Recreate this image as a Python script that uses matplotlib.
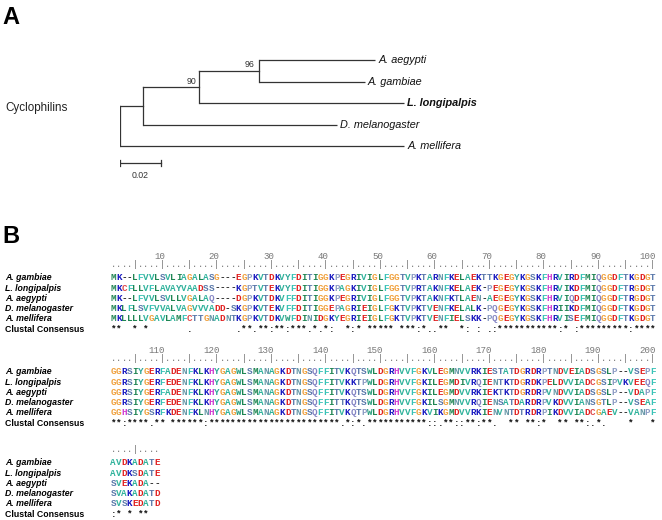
import matplotlib
matplotlib.use('Agg')
import matplotlib.pyplot as plt

W, H = 662, 520

# ---------------- panel A : tree ----------------
taxa = ['A. aegypti', 'A. gambiae', 'L. longipalpis', 'D. melanogaster', 'A. mellifera']
bootstrap = ['96', '90']
# branch lengths (substitutions per site)
br_root_n1 = 0.0115
br_n1_n2 = 0.0274
br_n2_n3 = 0.0295
br_n3_aeg = 0.0571
br_n3_gam = 0.0521
br_n2_lon = 0.1008
br_n1_dme = 0.0953
br_root_mel = 0.1397
scale_len = 0.02

# ---------------- panel B : alignment ----------------
names = ['A. gambiae', 'L. longipalpis', 'A. aegypti', 'D. melanogaster', 'A. mellifera']
gambiae = ('MK--LFVVLSVLIAGALASG---EGPKVTDKVYFDITIGG'
           'KPEGRIVIGLFGGTVPKTARNFKELAEKTTKGEGYKGSKF'
           'HRVIRDFMIQGGDFTKGDGT'
           'GGRSIYGERFADENFKLKHYGAGWLSMANAGKDTNGSQFF'
           'ITVKQTSWLDGRHVVFGKVLEGMNVVRKIESTATDGRDRP'
           'TNDVEIADSGSLP--VSEPF'
           'AVDKADATE')
longipalpis = ('MKCFLLVFLAVAYVAADSS----KGPTVTEKVYFDITIGG'
               'KPAGKIVIGLFGGTVPRTAKNFKELAEK-PEGEGYKGSKF'
               'HRVIKDFMIQGGDFTRGDGT'
               'GGRSIYGERFEDENFKLKHYGAGWLSMANAGKDTNGSQFF'
               'ITVKKTPWLDGRHVVFGKILEGMDIVRQIENTKTDGRDKP'
               'ELDVVIADCGSIPVKVEEQF'
               'AVDKSDATE')
aegypti = ('MK--LFVVLSVLLVGALAQ----DGPKVTDKVFFDITIGG'
           'KPEGRIVIGLFGGTVPKTAKNFKTLAEN-AEGEGYKGSKF'
           'HRVIQDFMIQGGDFTRGDGT'
           'GGRSIYGERFADENFKLKHYGAGWLSMANAGKDTNGSQFF'
           'ITVKQTSWLDGRHVVFGKILEGMDVVRKIEKTKTDGRDRP'
           'VNDVVIADSGSLP--VDAPF'
           'SVEKADA--')
melanogaster = ('MKLFLSVFVVALVAGVVVADD-SKGPKVTEKVFFDITIGG'
                'EPAGRIEIGLFGKTVPKTVENFKELALK-PQGEGYKGSKF'
                'HRIIKDFMIQGGDFTKGDGT'
                'GGRSIYGERFEDENFKLKHYGAGWLSMANAGKDTNGSQFF'
                'ITTKQTSWLDGRHVVFGKILSGMNVVRQIENSATDARDRP'
                'VKDVVIANSGTLP--VSEAF'
                'SVAKADATD')
mellifera = ('MKLLLLVGAVLAMFCTTGNADNTKGPKVTDKVWFDINIDG'
             'KYEGRIEIGLFGKTVPKTVENFIELSKK-PQGEGYKGSKF'
             'HRVISEFMIQGGDFTKGDGT'
             'GGHSIYGSRFKDENFKLNHYGAGWLSMANAGKDTNGSQFF'
             'ITVKQTPWLDGRHVVFGKVIKGMDVVRKIENVNTDTRDRP'
             'IKDVVIADCGAEV--VANPF'
             'SVSKEDATD')
consensus = ('**  * *       .     '
             '   .**.**:**:***.*.*'
             ':  *:* ***** ***:*..'
             '**  *: : .:*********'
             '**:* :*********:****'
             '**:****.** ******:**'
             '********************'
             '**.*:*.***********::'
             '.**::**:**.  ** **:*'
             '  ** **:.*.    *   *'
             ':* * **  ')
seqs = [gambiae, longipalpis, aegypti, melanogaster, mellifera]
block_len = 100

aa_colors = {
    'A': '#30b39c', 'V': '#30b39c', 'F': '#38c2b6', 'Y': '#2ea898', 'W': '#2a9f80',
    'L': '#1f8552', 'I': '#1f8552', 'M': '#1f8552',
    'C': '#e04848',
    'G': '#f0a03c',
    'P': '#8c9cc4',
    'S': '#5a78aa', 'T': '#5a78aa',
    'N': '#6898a8', 'Q': '#8484c4',
    'D': '#e02020', 'E': '#e02020',
    'K': '#1818c0', 'R': '#1818c0',
    'H': '#d03cd0',
    '-': '#222222',
}

fig = plt.figure(figsize=(W / 100, H / 100), dpi=100)

# overlay in pixel units for panel letters and side text
ax0 = fig.add_axes([0, 0, 1, 1])
ax0.set_xlim(0, W)
ax0.set_ylim(H, 0)
ax0.axis('off')
ax0.text(2, 24, 'A', fontsize=17, fontweight='bold', family='Liberation Sans', va='baseline', ha='left')
ax0.text(2, 243, 'B', fontsize=17, fontweight='bold', family='Liberation Sans', va='baseline', ha='left')
ax0.text(5, 108, 'Cyclophilins', fontsize=8.4, family='Liberation Sans', va='center', ha='left', color='#222222')

# ---- tree
px_per_unit = 2033.0
ax_t = fig.add_axes([120 / W, 1 - 185 / H, 325 / W, 136 / H])
ax_t.set_xlim(0, 325 / px_per_unit)
ax_t.set_ylim((185 - 60) / 21.5, (49 - 60) / 21.5)
ax_t.axis('off')

x_n1 = br_root_n1
x_n2 = x_n1 + br_n1_n2
x_n3 = x_n2 + br_n2_n3
tip_x = [x_n3 + br_n3_aeg, x_n3 + br_n3_gam, x_n2 + br_n2_lon, x_n1 + br_n1_dme, br_root_mel]
tip_y = [0, 1, 2, 3, 4]
tip_parent = [x_n3, x_n3, x_n2, x_n1, 0]
y_n3 = (tip_y[0] + tip_y[1]) / 2
y_n2 = (y_n3 + tip_y[2]) / 2
y_n1 = (y_n2 + tip_y[3]) / 2

lc = '#333333'
lw = 0.9
for px, tx, ty in zip(tip_parent, tip_x, tip_y):
    ax_t.plot([px, tx], [ty, ty], color=lc, lw=lw, solid_capstyle='butt')
ax_t.plot([x_n2, x_n3], [y_n3, y_n3], color=lc, lw=lw)
ax_t.plot([x_n1, x_n2], [y_n2, y_n2], color=lc, lw=lw)
ax_t.plot([0, x_n1], [y_n1, y_n1], color=lc, lw=lw)
ax_t.plot([x_n3, x_n3], [tip_y[0], tip_y[1]], color=lc, lw=lw)
ax_t.plot([x_n2, x_n2], [y_n3, tip_y[2]], color=lc, lw=lw)
ax_t.plot([x_n1, x_n1], [y_n2, tip_y[3]], color=lc, lw=lw)
ax_t.plot([0, 0], [y_n1, tip_y[4]], color=lc, lw=lw)

for name, tx, ty in zip(taxa, tip_x, tip_y):
    w = 'bold' if name == 'L. longipalpis' else 'normal'
    ax_t.text(tx + 0.0015, ty, name, fontsize=7.8, style='italic', fontweight=w,
              family='Liberation Sans', va='center', ha='left', color='#111111', clip_on=False)

ax_t.text(x_n3 - 0.002, y_n3 - 0.27, bootstrap[0], fontsize=6.3, family='Liberation Sans',
          ha='right', va='center', color='#333333')
ax_t.text(x_n2 - 0.0015, y_n2 - 0.23, bootstrap[1], fontsize=6.3, family='Liberation Sans',
          ha='right', va='center', color='#333333')

# scale bar
sb_y = (163 - 60) / 21.5
ax_t.plot([0, scale_len], [sb_y, sb_y], color=lc, lw=lw)
ax_t.plot([0, 0], [sb_y - 0.14, sb_y + 0.14], color=lc, lw=lw)
ax_t.plot([scale_len, scale_len], [sb_y - 0.14, sb_y + 0.14], color=lc, lw=lw)
ax_t.text(scale_len / 2, (175 - 60) / 21.5, '%.2f' % scale_len, fontsize=6.3,
          family='Liberation Sans', ha='center', va='center', color='#333333')

# ---- alignment blocks
row_h = 10.3
col_w = 5.45
x_left = 110.5
block_top = [277.7, 371.7, 462.7]
mono = 'Liberation Mono'
n_blocks = (len(gambiae) + block_len - 1) // block_len
for b in range(n_blocks):
    start = b * block_len
    stop = min(start + block_len, len(gambiae))
    y0 = block_top[b]
    ax = fig.add_axes([x_left / W, 1 - (y0 + 5.5 * row_h) / H, block_len * col_w / W, 8 * row_h / H])
    ax.set_xlim(0.5, block_len + 0.5)
    ax.set_ylim(5.5, -2.5)
    ax.axis('off')
    # ruler and numbers
    for c in range(start + 1, stop + 1):
        col = c - start
        ax.text(col, -1.25, '|' if c % 5 == 0 else '.', fontsize=6.3, family=mono,
                ha='center', va='center', color='#777777')
        if c % 10 == 0:
            ax.text(col + 0.5, -2.05, str(c), fontsize=6.6, family=mono,
                    ha='right', va='center', color='#777777')
    for i, (nm, s) in enumerate(zip(names, seqs)):
        ax.text(-18.9, i, nm, fontsize=6.3, fontweight='bold', style='italic',
                family='Liberation Sans', ha='left', va='center', clip_on=False)
        for c in range(start, stop):
            ch = s[c]
            ax.text(c - start + 1, i, ch, fontsize=6.7, fontweight='bold', family=mono,
                    ha='center', va='center', color=aa_colors.get(ch, '#222222'))
    ax.text(-18.9, 5, 'Clustal Consensus', fontsize=6.3, fontweight='bold',
            family='Liberation Sans', ha='left', va='center', clip_on=False)
    for c in range(start, stop):
        if consensus[c] != ' ':
            ax.text(c - start + 1, 5, consensus[c], fontsize=6.7, fontweight='bold', family=mono,
                    ha='center', va='center', color='#111111')

fig.savefig('out.png', dpi=100)
